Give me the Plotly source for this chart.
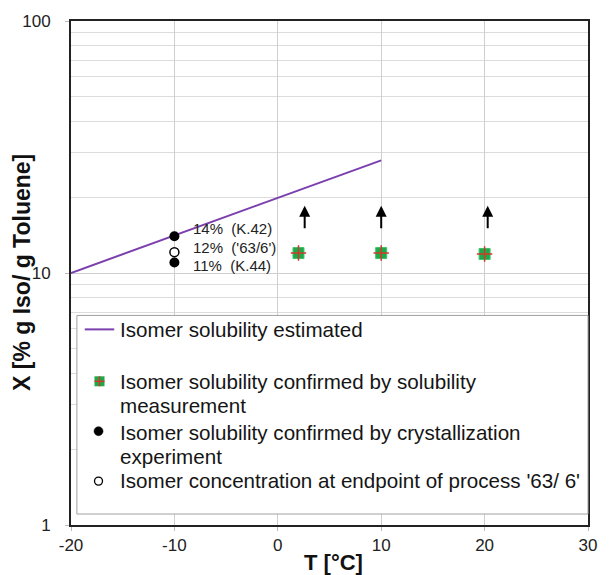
import math
import plotly.graph_objects as go

# ---- data ----
est_T = [-20, 10]
est_X = [10.0, 28.0]

meas_T = [2, 10, 20]
meas_X = [12.0, 12.0, 11.9]

cryst_T = [-10, -10]
cryst_X = [14.0, 11.0]

endpoint_T = [-10]
endpoint_X = [12.1]

label_T = [-8.4, -8.4, -8.4]
label_X = [15.0, 12.6, 10.7]
label_text = ["14%  (K.42)", "12%  ('63/6')", "11%  (K.44)"]

arrow_T = [2.6, 10.0, 20.3]
arrow_tip_X = [18.5, 18.5, 18.5]

x_ticks = [-20, -10, 0, 10, 20, 30]
y_ticks = [1, 10, 100]
y_minor = [m * d for d in (1, 10) for m in range(2, 10)]

legend_lines = [
    "Isomer solubility estimated",
    "Isomer solubility confirmed by solubility",
    "measurement",
    "Isomer solubility confirmed by crystallization",
    "experiment",
    "Isomer concentration at endpoint of process '63/ 6'",
]

FONT = "Liberation Sans, Arial, sans-serif"
PURPLE = "#7b3fae"
GREEN = "#1fa84a"
RED = "#d2382a"

# plot-area geometry (pixels) for the hand-drawn legend
W, H = 609, 575
L, R, T, B = 71, 12, 20, 50
PW, PH = W - L - R, H - T - B


def px(xp):
    return (xp - L) / PW


def py(yp):
    return (H - B - yp) / PH


fig = go.Figure()

fig.add_trace(go.Scatter(x=est_T, y=est_X, mode="lines",
                         line=dict(color=PURPLE, width=2), showlegend=False))
fig.add_trace(go.Scatter(x=meas_T, y=meas_X, mode="markers",
                         marker=dict(symbol="square", size=11, color=GREEN,
                                     line=dict(color="#3cc46a", width=1)),
                         showlegend=False))
fig.add_trace(go.Scatter(x=meas_T, y=meas_X, mode="markers",
                         marker=dict(symbol="cross-thin", size=11,
                                     line=dict(color=RED, width=1.5)),
                         showlegend=False, hoverinfo="skip"))
fig.add_trace(go.Scatter(x=cryst_T, y=cryst_X, mode="markers",
                         marker=dict(symbol="circle", size=10, color="black"),
                         showlegend=False))
fig.add_trace(go.Scatter(x=endpoint_T, y=endpoint_X, mode="markers",
                         marker=dict(symbol="circle", size=9, color="white",
                                     line=dict(color="black", width=1.5)),
                         showlegend=False))

annotations = []
for t, xv, txt in zip(label_T, label_X, label_text):
    annotations.append(dict(x=t, y=math.log10(xv), text=txt, showarrow=False,
                            xanchor="left", yanchor="middle",
                            font=dict(family=FONT, size=15, color="#222")))
for t, xv in zip(arrow_T, arrow_tip_X):
    annotations.append(dict(x=t, y=math.log10(xv), ax=0, ay=24, text="",
                            showarrow=True, arrowhead=2, arrowsize=1.1,
                            arrowwidth=2, arrowcolor="black"))
annotations.append(dict(xref="paper", yref="paper", x=0, y=0.5, xshift=-49,
                        text="<b>X [% g Iso/ g Toluene]</b>", textangle=-90,
                        showarrow=False, xanchor="center", yanchor="middle",
                        font=dict(family=FONT, size=23, color="#111")))
annotations.append(dict(xref="paper", yref="paper", x=0.5, y=0, xshift=4, yshift=-37,
                        text="<b>T [°C]</b>", showarrow=False,
                        xanchor="center", yanchor="middle",
                        font=dict(family=FONT, size=22, color="#111")))

# ---- hand-drawn legend ----
legend_row_y = [329, 381, 405, 432, 456, 480]
for txt, yy in zip(legend_lines, legend_row_y):
    annotations.append(dict(xref="paper", yref="paper", x=px(119), y=py(yy),
                            text=txt, showarrow=False, xanchor="left",
                            yanchor="middle",
                            font=dict(family=FONT, size=20.6, color="#151515")))

shapes = []
shapes.append(dict(type="rect", xref="paper", yref="paper",
                   x0=px(77), x1=1.0, y0=py(514), y1=py(315),
                   fillcolor="white", line=dict(color="#a0a0a0", width=1),
                   layer="above"))
# line key
shapes.append(dict(type="line", xref="paper", yref="paper",
                   x0=px(85), x1=px(115), y0=py(329), y1=py(329),
                   line=dict(color=PURPLE, width=2), layer="above"))


def key_box(cx, cy, half, **kw):
    return dict(xref="paper", yref="paper", xsizemode="pixel", ysizemode="pixel",
                xanchor=px(cx), yanchor=py(cy), x0=-half, x1=half,
                y0=-half, y1=half, layer="above", **kw)


shapes.append(key_box(100, 381, 5, type="rect", fillcolor=GREEN,
                      line=dict(color=GREEN, width=0)))
shapes.append(dict(type="line", xref="paper", yref="paper", xsizemode="pixel",
                   ysizemode="pixel", xanchor=px(100), yanchor=py(381),
                   x0=-5, x1=5, y0=0, y1=0, line=dict(color=RED, width=1.5),
                   layer="above"))
shapes.append(dict(type="line", xref="paper", yref="paper", xsizemode="pixel",
                   ysizemode="pixel", xanchor=px(100), yanchor=py(381),
                   x0=0, x1=0, y0=-5, y1=5, line=dict(color=RED, width=1.5),
                   layer="above"))
shapes.append(key_box(99, 431, 4.5, type="circle", fillcolor="black",
                      line=dict(color="black", width=0.5)))
shapes.append(key_box(99, 481, 4, type="circle", fillcolor="white",
                      line=dict(color="black", width=1.3)))

fig.update_layout(
    width=W, height=H,
    margin=dict(l=L, r=R, t=T, b=B),
    paper_bgcolor="white", plot_bgcolor="white",
    font=dict(family=FONT, color="#222"),
    showlegend=False,
    annotations=annotations,
    shapes=shapes,
)
fig.update_xaxes(
    range=[-20, 30], tickvals=x_ticks, ticktext=[str(v) for v in x_ticks],
    showgrid=True, gridcolor="#cfcfcf", gridwidth=1,
    showline=True, linecolor="#222", linewidth=2, mirror=True,
    ticks="outside", ticklen=4, tickcolor="#bbb",
    tickfont=dict(family=FONT, size=17, color="#222"),
    zeroline=False,
)
fig.update_yaxes(
    type="log", range=[0, 2], tickvals=y_ticks, ticktext=[str(v) for v in y_ticks],
    showgrid=True, gridcolor="#cfcfcf", gridwidth=1,
    minor=dict(tickvals=y_minor, showgrid=True, gridcolor="#dcdcdc", gridwidth=1, ticks=""),
    showline=True, linecolor="#222", linewidth=2, mirror=True,
    ticks="outside", ticklen=4, tickcolor="#bbb",
    tickfont=dict(family=FONT, size=17, color="#222"),
    ticklabelstandoff=11,
    zeroline=False,
)

fig.write_html("out.html")
